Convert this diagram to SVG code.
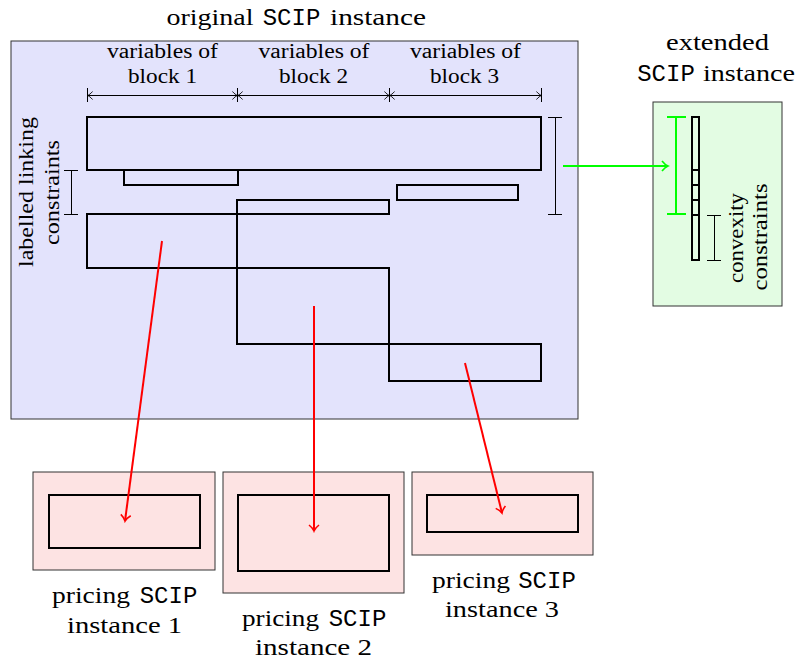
<svg xmlns="http://www.w3.org/2000/svg" width="800" height="659" viewBox="0 0 800 659">
<style>
.t{font-family:"Liberation Serif","Times New Roman",serif;fill:#000;text-anchor:middle}
.m{font-family:"Liberation Mono","Courier New",monospace;fill:#000;text-anchor:middle;font-size:24px}
.big{font-size:24px}
.sm{font-size:20px}
.frame{stroke:#333;stroke-width:1}
.blk{fill:none;stroke:#000;stroke-width:2}
.thin{fill:none;stroke:#000;stroke-width:1}
.red{fill:none;stroke:#f00;stroke-width:2}
.grn{fill:none;stroke:#0f0;stroke-width:2}
</style>
<defs>
<marker id="ar" markerUnits="userSpaceOnUse" viewBox="-8 -7 10 14" markerWidth="10" markerHeight="14" refX="0" refY="0" orient="auto">
<path d="M-6,-5 C-4,-2.5 -1.5,-0.6 0,0 C-1.5,0.6 -4,2.5 -6,5" fill="none" stroke="#f00" stroke-width="1.6"/>
</marker>
<marker id="ag" markerUnits="userSpaceOnUse" viewBox="-8 -7 10 14" markerWidth="10" markerHeight="14" refX="0" refY="0" orient="auto">
<path d="M-6,-5 C-4,-2.5 -1.5,-0.6 0,0 C-1.5,0.6 -4,2.5 -6,5" fill="none" stroke="#0f0" stroke-width="1.6"/>
</marker>
<marker id="ad" markerUnits="userSpaceOnUse" viewBox="-7 -6 8 12" markerWidth="8" markerHeight="12" refX="0" refY="0" orient="auto-start-reverse">
<path d="M-5,-4 C-3.5,-2 -1.2,-0.4 0,0 C-1.2,0.4 -3.5,2 -5,4" fill="none" stroke="#000" stroke-width="0.9"/>
</marker>
</defs>

<g id="original">
<text class="t big" x="210" y="25" textLength="87" lengthAdjust="spacingAndGlyphs">original</text>
<text class="m" x="291.5" y="25">SCIP</text>
<text class="t big" x="378" y="25" textLength="96" lengthAdjust="spacingAndGlyphs">instance</text>
<rect class="frame" x="11" y="41" width="567" height="378" fill="#e3e3fc"/>
<text class="t sm" x="162.5" y="58" textLength="111" lengthAdjust="spacingAndGlyphs">variables of</text>
<text class="t sm" x="162.5" y="83" textLength="69" lengthAdjust="spacingAndGlyphs">block 1</text>
<text class="t sm" x="314" y="58" textLength="111" lengthAdjust="spacingAndGlyphs">variables of</text>
<text class="t sm" x="313.5" y="83" textLength="69" lengthAdjust="spacingAndGlyphs">block 2</text>
<text class="t sm" x="465.5" y="58" textLength="111" lengthAdjust="spacingAndGlyphs">variables of</text>
<text class="t sm" x="464.5" y="83" textLength="69" lengthAdjust="spacingAndGlyphs">block 3</text>
<g class="thin">
<path d="M87.5,88V102M237.5,88V102M389.5,88V102M541.5,88V102"/>
<path d="M87.5,95.5H237.5" marker-start="url(#ad)" marker-end="url(#ad)"/>
<path d="M237.5,95.5H389.5" marker-start="url(#ad)" marker-end="url(#ad)"/>
<path d="M389.5,95.5H541.5" marker-start="url(#ad)" marker-end="url(#ad)"/>
<path d="M71.5,170V214M64,170.5H78M64,214.5H78"/>
<path d="M555.5,117V214M548,117.5H562M548,214.5H562"/>
</g>
<g transform="translate(33,192) rotate(-90)"><text class="t sm" x="0" y="0" textLength="150" lengthAdjust="spacingAndGlyphs">labelled linking</text></g>
<g transform="translate(59,192.5) rotate(-90)"><text class="t sm" x="0" y="0" textLength="105" lengthAdjust="spacingAndGlyphs">constraints</text></g>
<g class="blk">
<rect x="87" y="117" width="454" height="53"/>
<rect x="124" y="170" width="114" height="15"/>
<rect x="397" y="185" width="121" height="15"/>
<path d="M87,214H389V200H237V344H541V381H389V268H87Z"/>
</g>
</g>

<g id="extended">
<text class="t big" x="717.5" y="50" textLength="103" lengthAdjust="spacingAndGlyphs">extended</text>
<text class="m" x="666" y="81">SCIP</text>
<text class="t big" x="749" y="81" textLength="92" lengthAdjust="spacingAndGlyphs">instance</text>
<rect class="frame" x="653" y="102" width="129" height="204" fill="#e3fce3"/>
<rect class="blk" x="692" y="117" width="7" height="143"/>
<path class="blk" d="M692,170H699M692,185H699M692,200H699M692,215H699"/>
<path class="grn" d="M676,117V214M667,117H686M667,214H686"/>
<path class="thin" d="M714.5,215V260M707,215.5H721M707,260.5H721"/>
<g transform="translate(743,238) rotate(-90)"><text class="t sm" x="0" y="0" textLength="90" lengthAdjust="spacingAndGlyphs">convexity</text></g>
<g transform="translate(767,237) rotate(-90)"><text class="t sm" x="0" y="0" textLength="107" lengthAdjust="spacingAndGlyphs">constraints</text></g>
</g>

<g id="pricing1">
<rect class="frame" x="33" y="472" width="182" height="98" fill="#fde3e3"/>
<rect class="blk" x="49" y="495" width="151" height="53"/>
<text class="t big" x="91" y="603" textLength="78" lengthAdjust="spacingAndGlyphs">pricing</text>
<text class="m" x="168.5" y="603">SCIP</text>
<text class="t big" x="124.5" y="633" textLength="115" lengthAdjust="spacingAndGlyphs">instance 1</text>
</g>
<g id="pricing2">
<rect class="frame" x="223" y="472" width="181" height="121" fill="#fde3e3"/>
<rect class="blk" x="238" y="495" width="151" height="76"/>
<text class="t big" x="280.5" y="626" textLength="77" lengthAdjust="spacingAndGlyphs">pricing</text>
<text class="m" x="357.5" y="626">SCIP</text>
<text class="t big" x="313.5" y="655" textLength="117" lengthAdjust="spacingAndGlyphs">instance 2</text>
</g>
<g id="pricing3">
<rect class="frame" x="412" y="472" width="181" height="83" fill="#fde3e3"/>
<rect class="blk" x="427" y="495" width="151" height="37"/>
<text class="t big" x="471" y="588" textLength="78" lengthAdjust="spacingAndGlyphs">pricing</text>
<text class="m" x="547" y="588">SCIP</text>
<text class="t big" x="502" y="617" textLength="114" lengthAdjust="spacingAndGlyphs">instance 3</text>
</g>

<g id="connectors">
<path class="red" d="M162,241L125,521" marker-end="url(#ar)"/>
<path class="red" d="M314,306V531" marker-end="url(#ar)"/>
<path class="red" d="M465,363L502,513" marker-end="url(#ar)"/>
<path class="grn" d="M563,166H668" marker-end="url(#ag)"/>
</g>
</svg>
